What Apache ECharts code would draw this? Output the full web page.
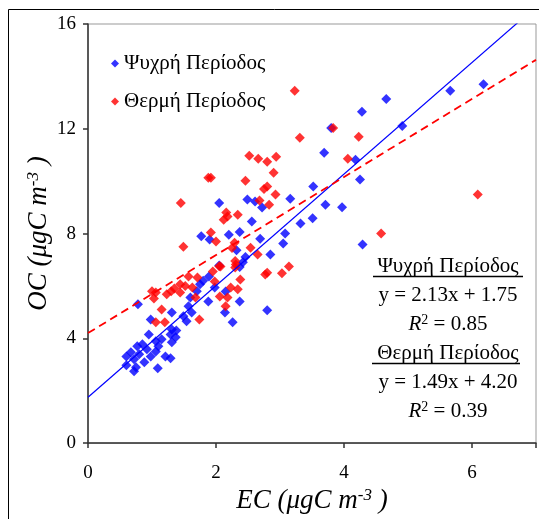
<!DOCTYPE html>
<html><head><meta charset="utf-8">
<script src="https://cdn.jsdelivr.net/npm/echarts@6/dist/echarts.min.js"></script>
<style>html,body{margin:0;padding:0;background:#fff}#c{width:539px;height:519px}</style>
</head><body><div id="c"></div>
<script>
const seriesNames = ['Ψυχρή Περίοδος', 'Θερμή Περίοδος'];
const xTicks = [0, 2, 4, 6];
const yTicks = [0, 4, 8, 12, 16];
const coldPoints = [
 [6.18,13.7],[5.66,13.45],[4.66,13.14],[4.28,12.65],[3.80,12.03],[4.91,12.11],[3.69,11.08],[4.18,10.82],[4.25,10.06],[3.52,9.8],
 [3.16,9.33],[3.71,9.1],[3.97,9.0],[3.51,8.58],[3.32,8.38],[3.08,8.0],[3.05,7.62],[4.29,7.58],[2.85,7.2],[2.8,5.07],
 [2.05,9.17],[2.49,9.3],[2.61,9.22],[2.72,8.99],[2.56,8.46],[1.77,7.9],[1.9,7.77],[2.2,7.95],[2.37,8.06],[2.69,7.8],
 [2.32,7.36],[2.46,7.1],[2.37,6.72],[2.42,6.9],[0.78,5.3],[2.05,6.78],[1.89,6.36],[1.75,6.06],[1.98,5.94],[2.15,5.79],
 [1.88,5.41],[2.37,5.41],[1.6,5.56],[1.57,5.22],[1.62,4.99],[1.49,4.84],[1.31,4.99],[2.14,4.99],[2.26,4.61],[1.54,4.65],
 [0.98,4.72],[1.31,4.34],[1.38,4.3],[1.29,4.15],[1.37,4.04],[0.95,4.15],[1.15,3.96],[1.31,3.85],[1.06,3.89],[0.85,3.77],
 [0.77,3.7],[1.1,3.7],[0.92,3.58],[0.67,3.47],[1.06,3.5],[0.8,3.39],[1.21,3.31],[0.6,3.31],[0.98,3.31],[1.29,3.24],
 [0.72,3.2],[0.88,3.09],[0.6,2.97],[0.75,2.9],[0.72,2.74],[1.09,2.86],[1.8,6.2],[1.7,5.8]
];
const warmPoints = [
 [3.23,13.45],[3.83,12.03],[3.31,11.66],[4.23,11.7],[2.94,10.93],[2.8,10.74],[4.06,10.86],[2.9,10.32],[2.8,9.8],[2.93,9.49],
 [2.83,9.1],[6.09,9.49],[4.58,8.0],[3.14,6.74],[3.03,6.48],[2.52,10.97],[2.66,10.86],[1.88,10.13],[1.92,10.13],[2.46,10.02],
 [2.75,9.7],[1.45,9.17],[2.68,9.26],[2.16,8.8],[2.18,8.65],[2.12,8.53],[2.34,8.72],[1.92,8.04],[2.0,7.7],[1.49,7.5],
 [2.29,7.65],[2.25,7.45],[2.54,7.46],[2.65,7.2],[2.3,6.95],[2.05,6.75],[2.3,6.7],[2.8,6.5],[1.06,5.75],[1.03,5.52],
 [1.23,5.68],[1.15,5.1],[1.06,4.61],[1.2,4.61],[1.44,6.06],[1.52,6.0],[1.57,6.36],[1.71,6.32],[1.44,5.75],[1.68,5.56],
 [1.63,5.94],[1.74,4.72],[1.95,6.55],[1.98,6.17],[2.07,6.74],[2.31,6.82],[2.23,5.94],[2.06,5.6],[2.18,5.56],[2.15,5.22],
 [2.34,5.87],[2.38,6.25],[2.77,6.44],[1.0,5.8],[1.3,5.8],[1.35,5.9]
];
const coldFit = {slope: 2.13, intercept: 1.75, r2: 0.85};
const warmFit = {slope: 1.49, intercept: 4.20, r2: 0.39};
const xRange = [0, 7];

const FF = "'Liberation Serif', 'Times New Roman', 'DejaVu Serif', serif";
const fitLine = f => xRange.map(x => [x, f.slope * x + f.intercept]);
const fmt = v => v.toFixed(2);

const chart = echarts.init(document.getElementById('c'));
const axisName = lbl => '{n|' + lbl + ' (μgC m}{s|-3}{n| )}';
const annX = 448;
const ann = (y, txt, rich) => ({type:'text', x: annX, y: y, z: 10,
  style:{text: txt, rich: rich, fontFamily: FF, fontSize: 21, fill:'#000', align:'center', verticalAlign:'middle'}});
const r2rich = {i:{fontSize:21, fontStyle:'italic', fontFamily:FF, fill:'#000'},
                s:{fontSize:14, fontFamily:FF, fill:'#000', verticalAlign:'top', lineHeight:12},
                n:{fontSize:21, fontFamily:FF, fill:'#000'}};
const nameRich = {n: {fontFamily: FF, fontSize: 27, fontStyle: 'italic', color: '#000'},
                  s: {fontFamily: FF, fontSize: 17, fontStyle: 'italic', color: '#000', verticalAlign: 'top', lineHeight: 10}};
chart.setOption({
  animation: false,
  textStyle: {fontFamily: FF},
  grid: {left: 88, top: 24, width: 455, height: 420, show: true, borderColor: '#999', borderWidth: 1, backgroundColor: '#fff'},
  legend: {
    left: 106, top: 48, orient: 'vertical', itemWidth: 8, itemHeight: 8, itemGap: 17,
    icon: 'diamond', textStyle: {fontFamily: FF, fontSize: 21, color: '#000'},
    data: seriesNames
  },
  xAxis: {
    type: 'value', min: xRange[0], max: xRange[1], interval: 2,
    axisLine: {lineStyle: {color: '#333', width: 1.5}},
    axisTick: {show: true, length: 5, lineStyle: {color: '#333', width: 1.5}},
    splitLine: {show: false},
    axisLabel: {fontFamily: FF, fontSize: 19, color: '#000', margin: 20,
      formatter: v => xTicks.includes(v) ? String(v) : ''},
    name: axisName('EC'), nameLocation: 'middle', nameGap: 40,
    nameTextStyle: {fontFamily: FF, rich: nameRich}
  },
  yAxis: {
    type: 'value', min: 0, max: 16, interval: 4,
    axisLine: {show: true, lineStyle: {color: '#333', width: 1.5}},
    axisTick: {show: true, length: 5, lineStyle: {color: '#333', width: 1.5}},
    splitLine: {show: false},
    axisLabel: {fontFamily: FF, fontSize: 19, color: '#000', margin: 12,
      formatter: v => yTicks.includes(v) ? String(v) : ''},
    name: axisName('OC'), nameLocation: 'middle', nameGap: 36, nameRotate: 90,
    nameMoveOverlap: false,
    nameTextStyle: {fontFamily: FF, rich: nameRich}
  },
  series: [
    {name: seriesNames[0], type: 'scatter', data: coldPoints, symbol: 'diamond', symbolSize: 10,
     itemStyle: {color: '#0000FF'}, z: 2},
    {name: seriesNames[1], type: 'scatter', data: warmPoints, symbol: 'diamond', symbolSize: 10,
     itemStyle: {color: '#FF0000'}, z: 3},
    {type: 'line', data: fitLine(coldFit), showSymbol: false, symbol: 'none', clip: true,
     lineStyle: {color: '#0000FF', width: 1.2}, z: 4, silent: true},
    {type: 'line', data: fitLine(warmFit), showSymbol: false, symbol: 'none', clip: true,
     lineStyle: {color: '#FF0000', width: 1.8, type: [8, 5]}, z: 4, silent: true}
  ],
  graphic: [
    {type: 'rect', shape: {x: 8.5, y: 9.5, width: 700, height: 700}, style: {fill: 'none', stroke: '#000', lineWidth: 1}, z: 0, silent: true},
    ann(266, seriesNames[0]),
    {type: 'line', shape: {x1: 373, y1: 276.5, x2: 523, y2: 276.5}, style: {stroke: '#000', lineWidth: 1.5}, z: 10},
    ann(295, 'y = ' + fmt(coldFit.slope) + 'x + ' + fmt(coldFit.intercept)),
    ann(324, '{i|R}{s|2}{n| = ' + fmt(coldFit.r2) + '}', r2rich),
    ann(353, seriesNames[1]),
    {type: 'line', shape: {x1: 372, y1: 363.5, x2: 520, y2: 363.5}, style: {stroke: '#000', lineWidth: 1.5}, z: 10},
    ann(382, 'y = ' + fmt(warmFit.slope) + 'x + ' + fmt(warmFit.intercept)),
    ann(411, '{i|R}{s|2}{n| = ' + fmt(warmFit.r2) + '}', r2rich)
  ]
});
</script></body></html>
